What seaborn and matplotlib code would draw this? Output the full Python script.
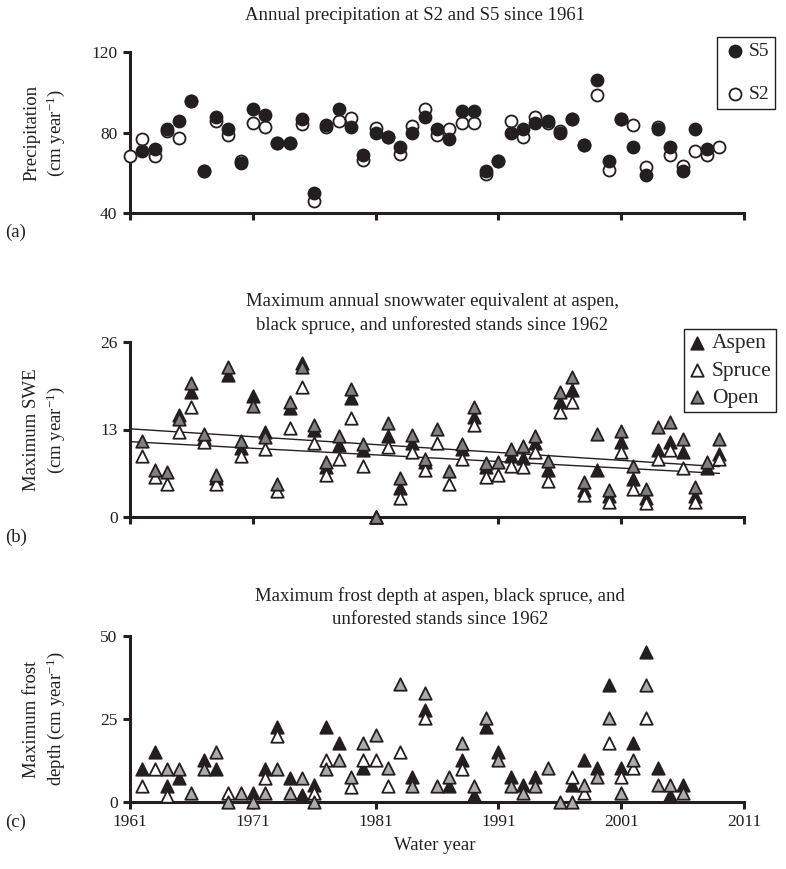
import numpy as np
import pandas as pd
import matplotlib
matplotlib.use("Agg")
import matplotlib.pyplot as plt
import seaborn as sns

nan = np.nan

# ---------------- Panel (a): annual precipitation ----------------
years_a = list(range(1961, 2010))
precip_s5 = [nan, 71, 72, 82, 86, 96, 61, 88, 82, 65,
             92, 89, 75, 75, 87, 50, 84, 92, 83, 69,
             80, 78, 73, 80, 88, 82, 77, 91, 91, 61,
             66, 80, 82, 85, 86, 80, 87, 74, 106, 66,
             87, 73, 59, 82, 73, 61, 82, 72, nan]
precip_s2 = [68.5, 77, 68.5, 81, 77.5, 96, 61, 86, 79, 66,
             85, 83, 75, 75, 84.5, 46, 83, 86, 87.5, 66.5,
             82.5, 78, 69.5, 83.5, 92, 79, 82, 85, 85, 59.5,
             66, 86, 78, 88, 85, 81, 87, 74, 99, 61.5,
             87, 84, 63, 83, 69, 63.5, 71, 69, 73]

# ---------------- Panel (b): maximum SWE ----------------
years_b = list(range(1962, 2010))
swe_aspen = [nan, nan, nan, 15.2, 18.6, 11.8, 5.8, 21.0, 10.2, 18.0,
             12.6, nan, 16.2, 22.8, 12.9, 7.5, 10.7, 17.6, 10.0, 0,
             12.0, 4.3, 11.0, 8.2, nan, nan, 10.1, 14.9, 7.4, nan,
             9.1, 8.8, 11.0, 7.0, 17.0, 18.9, 4.1, 7.0, 3.1, 11.2,
             5.6, 2.9, 10.0, 11.2, 9.7, 3.1, 7.3, 9.4]
swe_spruce = [9.1, 5.9, 4.9, 12.7, 16.4, 11.1, 4.9, nan, 9.1, nan,
              10.1, 3.9, 13.2, 19.3, 10.95, 6.3, 8.6, 14.75, 7.6, 0,
              10.45, 2.8, 9.7, 7.0, 10.95, 5.0, 8.6, 13.7, 6.0, 6.3,
              7.65, 7.5, 9.7, 5.4, 15.6, 17.0, 3.3, nan, 2.3, 9.6,
              4.2, 2.1, 8.6, 10.0, 7.35, 2.3, nan, 8.6]
swe_open = [11.25, 7.0, 6.75, 14.55, 19.9, 12.3, 6.2, 22.3, 11.3, 16.5,
            11.9, 4.9, 17.1, 22.2, 13.6, 8.2, 12.0, 19.0, 10.8, 0,
            13.9, 5.8, 12.2, 8.7, 13.1, 6.85, 10.8, 16.4, 8.0, 8.2,
            10.1, 10.55, 12.1, 8.3, 18.6, 20.7, 5.3, 12.3, 4.05, 12.8,
            7.6, 4.2, 13.4, 14.15, 11.6, 4.55, 8.2, 11.6]
trend_years = [1961, 2009]
trend_upper = [13.1, 7.5]
trend_lower = [11.2, 6.5]

# ---------------- Panel (c): maximum frost depth ----------------
years_c = list(range(1962, 2007))
frost_aspen = [9.9, 14.9, 4.8, 7.05, nan, 12.6, 9.9, nan, nan, 2.5,
               9.9, 22.6, 7.05, 2.0, 5.0, 22.6, 17.6, nan, 10.1, nan,
               nan, nan, 7.5, 27.7, nan, 4.8, 12.6, 2.0, 22.6, 15.1,
               7.5, 5.0, 7.5, nan, nan, 5.0, 12.6, 10.1, 35.2, 10.1,
               17.6, 45.3, 10.1, 2.0, 5.0]
frost_spruce = [4.8, 9.9, 1.8, nan, nan, nan, nan, 2.5, nan, nan,
                7.05, 19.9, nan, nan, 2.5, 12.6, nan, 4.5, 12.6, 12.6,
                4.8, 15.1, nan, 25.2, nan, nan, 9.9, nan, nan, nan,
                nan, nan, nan, nan, nan, 7.5, 2.5, nan, 17.6, 7.5,
                10.1, 25.2, nan, nan, nan]
frost_open = [nan, nan, 9.9, 9.9, 2.5, 9.9, 15.1, 0, 2.5, 0,
              2.5, 9.9, 2.5, 7.05, 0, 9.9, 12.6, 7.5, 17.6, 20.1,
              10.1, 35.4, 4.8, 32.7, 4.8, 7.5, 17.6, 4.8, 25.2, 12.6,
              4.8, 2.5, 4.8, 10.1, 0, 0, 5.0, 7.5, 25.2, 2.5,
              12.6, 35.2, 5.0, 5.0, 2.5]

x_ticks = [1961, 1971, 1981, 1991, 2001, 2011]

sns.set_style("ticks")
plt.rcParams['font.family'] = ['Liberation Serif', 'DejaVu Serif']
plt.rcParams['mathtext.fontset'] = 'custom'
plt.rcParams['mathtext.rm'] = 'Liberation Serif'
plt.rcParams['mathtext.it'] = 'Liberation Serif:italic'

W, H = 786, 869
fig = plt.figure(figsize=(W / 100, H / 100), dpi=100)


def add_ax(left, right, top, bottom):
    return fig.add_axes([left / W, 1 - bottom / H, (right - left) / W, (bottom - top) / H])


def style(ax, ylim, yticks, xlabels):
    ax.set_xlim(1961, 2011)
    ax.set_ylim(*ylim)
    ax.set_xticks(x_ticks)
    ax.set_yticks(yticks)
    ax.set_yticklabels([str(t) for t in yticks])
    if xlabels:
        ax.set_xticklabels([str(t) for t in x_ticks])
    else:
        ax.set_xticklabels([])
    for s in ["top", "right"]:
        ax.spines[s].set_visible(False)
    for s in ["left", "bottom"]:
        ax.spines[s].set_linewidth(2.2)
        ax.spines[s].set_color("#231f20")
    ax.tick_params(axis="both", direction="out", length=5, width=2.2,
                   color="#231f20", labelsize=12.5, pad=4, labelcolor="#231f20")
    ax.set_xlabel("")
    ax.set_ylabel("")


LEFT, RIGHT = 130, 744

# Panel (a)
axa = add_ax(LEFT, RIGHT, 52.3, 213.3)
sns.scatterplot(x=years_a, y=precip_s2, ax=axa, marker="o", s=75, color="white",
                edgecolor="#231f20", linewidth=1.3, label="S2", zorder=4, clip_on=False)
sns.scatterplot(x=years_a, y=precip_s5, ax=axa, marker="o", s=75, color="#231f20",
                edgecolor="#231f20", linewidth=1.3, label="S5", zorder=5, clip_on=False)
style(axa, (40, 120), [40, 80, 120], False)
h, l = axa.get_legend_handles_labels()
order = [l.index("S5"), l.index("S2")]
axa.legend([h[i] for i in order], [l[i] for i in order], loc="upper right",
           bbox_to_anchor=(775 / W, 1 - 37 / H), bbox_transform=fig.transFigure,
           frameon=True, fancybox=False, edgecolor="#231f20", framealpha=1,
           fontsize=14, labelspacing=1.3, handletextpad=0.1, handlelength=1.2,
           borderpad=0.3, borderaxespad=0)
axa.get_legend().get_frame().set_linewidth(1.0)

# Panel (b)
axb = add_ax(LEFT, RIGHT, 341.7, 517.3)
tri_kw = dict(marker="^", s=80, edgecolor="#231f20", linewidth=1.3, clip_on=False)
sns.scatterplot(x=years_b, y=swe_aspen, ax=axb, color="#231f20", label="Aspen", zorder=4, **tri_kw)
sns.scatterplot(x=years_b, y=swe_spruce, ax=axb, color="white", label="Spruce", zorder=5, **tri_kw)
sns.scatterplot(x=years_b, y=swe_open, ax=axb, color="#808080", label="Open", zorder=6, **tri_kw)
sns.lineplot(x=trend_years, y=trend_upper, ax=axb, color="#231f20", linewidth=1.0, zorder=3)
sns.lineplot(x=trend_years, y=trend_lower, ax=axb, color="#231f20", linewidth=1.0, zorder=3)
style(axb, (0, 26), [0, 13, 26], False)
h, l = axb.get_legend_handles_labels()
order = [l.index(k) for k in ["Aspen", "Spruce", "Open"]]
legb = axb.legend([h[i] for i in order], [l[i] for i in order], loc="lower right",
                  bbox_to_anchor=(776 / W, 1 - 412 / H), bbox_transform=fig.transFigure,
                  frameon=True, fancybox=False, edgecolor="#231f20", framealpha=1,
                  fontsize=15.5, labelspacing=0.33, handletextpad=0.3, handlelength=0.8,
                  borderpad=0.2, borderaxespad=0)
legb.get_frame().set_linewidth(1.0)
legb.set_zorder(10)

# Panel (c)
axc = add_ax(LEFT, RIGHT, 636, 801.7)
sns.scatterplot(x=years_c, y=frost_aspen, ax=axc, color="#231f20", zorder=4, **tri_kw)
sns.scatterplot(x=years_c, y=frost_spruce, ax=axc, color="white", zorder=5, **tri_kw)
sns.scatterplot(x=years_c, y=frost_open, ax=axc, color="#ababab", zorder=6, **tri_kw)
style(axc, (0, 50), [0, 25, 50], True)
if axc.get_legend() is not None:
    axc.get_legend().remove()

txt = dict(color="#231f20", ha="center", va="center")
fig.text(415 / W, 1 - 15 / H, "Annual precipitation at S2 and S5 since 1961", fontsize=13.5, **txt)
fig.text(432 / W, 1 - 302 / H, "Maximum annual snowwater equivalent at aspen,", fontsize=13.5, **txt)
fig.text(432 / W, 1 - 325 / H, "black spruce, and unforested stands since 1962", fontsize=13.5, **txt)
fig.text(440 / W, 1 - 596 / H, "Maximum frost depth at aspen, black spruce, and", fontsize=13.5, **txt)
fig.text(440 / W, 1 - 619 / H, "unforested stands since 1962", fontsize=13.5, **txt)
fig.text(435 / W, 1 - 846 / H, "Water year", fontsize=13.5, **txt)

for lab, y in [("(a)", 232), ("(b)", 537), ("(c)", 822)]:
    fig.text(5 / W, 1 - y / H, lab, fontsize=13.5, color="#231f20", ha="left", va="center")

ylab = dict(color="#231f20", ha="center", va="center", rotation=90, fontsize=13.5)
fig.text(32 / W, 1 - 133 / H, "Precipitation", **ylab)
fig.text(56 / W, 1 - 133 / H, r"(cm year$^{-1}$)", **ylab)
fig.text(32 / W, 1 - 430 / H, "Maximum SWE", **ylab)
fig.text(56 / W, 1 - 430 / H, r"(cm year$^{-1}$)", **ylab)
fig.text(32 / W, 1 - 719 / H, "Maximum frost", **ylab)
fig.text(56 / W, 1 - 719 / H, r"depth (cm year$^{-1}$)", **ylab)

fig.savefig("out.png", dpi=100)
